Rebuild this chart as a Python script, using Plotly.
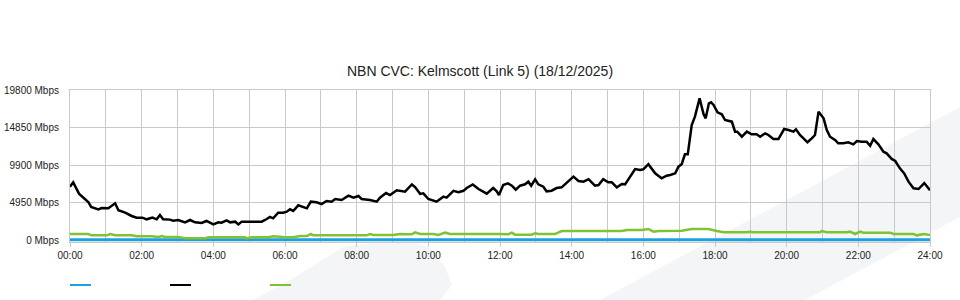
import plotly.graph_objects as go

# ---------------- data ----------------
title_text = "NBN CVC: Kelmscott (Link 5) (18/12/2025)"

x_tick_vals = [0, 2, 4, 6, 8, 10, 12, 14, 16, 18, 20, 22, 24]
x_tick_text = ["00:00", "02:00", "04:00", "06:00", "08:00", "10:00", "12:00",
               "14:00", "16:00", "18:00", "20:00", "22:00", "24:00"]
y_tick_vals = [0, 4950, 9900, 14850, 19800]
y_tick_text = ["0 Mbps", "4950 Mbps", "9900 Mbps", "14850 Mbps", "19800 Mbps"]

# hours of day
black_t = [0.00, 0.09, 0.25, 0.37, 0.51, 0.59, 0.79, 0.88, 1.07, 1.26, 1.35, 1.54, 1.72, 1.86,
           2.02, 2.14, 2.30, 2.42, 2.51, 2.60, 2.79, 2.88, 3.02, 3.21, 3.35, 3.49, 3.67, 3.81,
           4.00, 4.14, 4.23, 4.37, 4.47, 4.61, 4.70, 4.79, 4.98, 5.21, 5.35, 5.49, 5.58, 5.67,
           5.81, 5.95, 6.05, 6.14, 6.23, 6.37, 6.51, 6.61, 6.72, 6.88, 7.02, 7.16, 7.30, 7.40,
           7.58, 7.77, 7.91, 8.05, 8.14, 8.37, 8.56, 8.65, 8.82, 8.93, 9.12, 9.35, 9.54, 9.63,
           9.77, 9.86, 10.00, 10.23, 10.42, 10.51, 10.70, 10.84, 10.98, 11.07, 11.24, 11.40,
           11.63, 11.81, 11.91, 11.97, 12.09, 12.22, 12.33, 12.44, 12.56, 12.70, 12.79, 12.87,
           12.98, 13.07, 13.21, 13.30, 13.44, 13.58, 13.72, 13.86, 14.05, 14.19, 14.33, 14.47,
           14.65, 14.75, 14.88, 15.02, 15.12, 15.26, 15.40, 15.49, 15.63, 15.77, 15.91, 16.00,
           16.14, 16.33, 16.51, 16.65, 16.75, 16.89, 16.98, 17.07, 17.16, 17.24, 17.35, 17.44,
           17.57, 17.68, 17.74, 17.83, 17.89, 17.96, 18.07, 18.19, 18.28, 18.47, 18.56, 18.62,
           18.75, 18.89, 19.02, 19.16, 19.26, 19.40, 19.49, 19.63, 19.77, 19.93, 20.05, 20.19,
           20.26, 20.37, 20.47, 20.58, 20.70, 20.79, 20.89, 21.03, 21.12, 21.21, 21.35, 21.44,
           21.58, 21.72, 21.86, 21.96, 22.09, 22.23, 22.33, 22.42, 22.56, 22.70, 22.79, 22.93,
           23.03, 23.16, 23.28, 23.40, 23.54, 23.68, 23.84, 24.00]
black_v = [7040, 7610, 6120, 5550, 5020, 4360, 4050, 4220, 4180, 4840, 3920, 3610, 3170, 2950,
           2950, 2730, 2950, 2730, 3300, 2730, 2690, 2550, 2640, 2330, 2640, 2330, 2240, 2510,
           2060, 2330, 2290, 2600, 2330, 2420, 2060, 2420, 2420, 2510, 2420, 2770, 3040, 2860,
           3610, 3600, 3740, 4050, 3830, 4580, 4310, 4180, 5060, 4970, 4750, 5150, 5060, 5410,
           5280, 5850, 5590, 5810, 5410, 5280, 5060, 5590, 6200, 5940, 6560, 6380, 7330, 6980,
           6090, 6160, 5410, 5060, 5720, 5590, 6490, 6310, 6490, 6860, 7330, 6730,
           6110, 6860, 6420, 5940, 7260, 7480, 7170, 6640, 7170, 7350, 7700, 7170,
           8020, 7350, 7040, 6420, 6510, 6860, 6950, 7550, 8360, 7790, 7700, 8020,
           7170, 7260, 8020, 7610, 7610, 6950, 7390, 7350, 8360, 9370, 9240, 9330,
           10000, 8800, 8140, 8490, 8580, 8800, 9680, 10000, 11310, 11310, 15180, 16280,
           18700, 16630, 16060, 18040, 18170, 17820, 16850, 16590, 15840, 15620, 14300, 14300,
           13640, 14300, 13950, 13950, 13640, 14080, 13860, 13330, 13330, 14650, 14520, 14300,
           14610, 13860, 13420, 12900, 13420, 13860, 16940, 16060, 14520, 13640, 13200, 12760,
           12760, 12900, 12630, 13070, 12980, 12980, 12450, 13330, 12630, 11660, 11440, 10700,
           10430, 9460, 8800, 7700, 6820, 6730, 7520, 6560]

green_t = [0.00, 0.51, 0.60, 1.03, 1.12, 1.26, 1.72, 1.86, 2.28, 2.47, 2.56, 2.65, 3.02, 3.21,
           3.77, 3.86, 4.88, 4.93, 5.07, 5.53, 5.67, 5.81, 5.95, 6.23, 6.42, 6.61, 6.72, 6.79,
           8.28, 8.37, 8.47, 9.02, 9.21, 9.40, 9.54, 9.63, 9.77, 10.14, 10.28, 10.47, 10.61,
           11.99, 12.23, 12.33, 12.42, 12.88, 12.98, 13.07, 13.53, 13.72, 15.40, 15.54, 15.96,
           16.14, 16.28, 16.42, 16.98, 17.07, 17.35, 17.82, 18.05, 18.24, 18.89, 18.98, 19.07,
           20.93, 20.98, 21.12, 21.68, 21.77, 21.91, 22.05, 22.14, 22.89, 22.98, 23.54, 23.63,
           23.82, 24.00]
green_v = [790, 790, 616, 616, 790, 616, 616, 484, 484, 396, 528, 396, 396, 220,
           220, 352, 352, 220, 352, 352, 484, 396, 396, 352, 528, 528, 790, 616,
           616, 790, 660, 660, 790, 748, 748, 1010, 790, 790, 660, 968, 790,
           790, 748, 968, 704, 704, 880, 790, 790, 1188, 1188, 1320, 1320,
           1452, 1100, 1188, 1188, 1232, 1452, 1452, 1188, 1012, 1012, 1100, 1012,
           1012, 1188, 1012, 1012, 1100, 792, 1100, 968, 968, 790, 790, 616,
           790, 660]

blue_t = [0, 3, 6, 9, 12, 15, 18, 21, 24]
blue_v = [40, 40, 40, 40, 40, 40, 40, 40, 40]

# ---------------- styling ----------------
FONT = "Liberation Sans, Arial, sans-serif"
GRID = "#c9c9c9"
BLUE = "#1ba1e2"
BLACK = "#000000"
GREEN = "#7fc232"
WM = "#f4f5f7"

# plot area in pixels: x 70..930, y 90..242 (figure 960x300)
L, R, T, B = 70, 930, 90, 242


def px(xp):
    return (xp - L) / (R - L)


def py(yp):
    return (B - yp) / (B - T)


def path(points):
    return "M " + " L ".join(f"{px(a):.4f},{py(b):.4f}" for a, b in points) + " Z"


fig = go.Figure()
fig.add_trace(go.Scatter(x=blue_t, y=blue_v, mode="lines",
                         line=dict(color=BLUE, width=3), showlegend=False))
fig.add_trace(go.Scatter(x=green_t, y=green_v, mode="lines",
                         line=dict(color=GREEN, width=2.5), showlegend=False))
fig.add_trace(go.Scatter(x=black_t, y=black_v, mode="lines",
                         line=dict(color=BLACK, width=2.5), showlegend=False))

shapes = [
    # watermark shapes in the background
    dict(type="path", xref="paper", yref="paper", layer="below", line=dict(width=0),
         fillcolor=WM, path=path([(600, 300), (960, 107), (960, 217), (805, 300)])),
    dict(type="path", xref="paper", yref="paper", layer="below", line=dict(width=0),
         fillcolor=WM, path=path([(253, 300), (290, 280), (343, 247), (380, 242), (413, 242),
                                  (430, 248), (445, 267), (452, 285), (440, 300)])),
]
# legend swatches (no labels in the reference)
for col, x0 in [(BLUE, 70), (BLACK, 170), (GREEN, 270)]:
    shapes.append(dict(type="line", xref="paper", yref="paper",
                       x0=px(x0), x1=px(x0 + 21), y0=py(285), y1=py(285),
                       line=dict(color=col, width=2)))

y_low = -(B - 240) / 150 * 19800

fig.update_layout(
    width=960, height=300,
    margin=dict(l=L, r=960 - R, t=T, b=300 - B, pad=0, autoexpand=False),
    paper_bgcolor="white", plot_bgcolor="rgba(0,0,0,0)",
    font=dict(family=FONT, size=10, color="#222222"),
    title=dict(text=title_text, x=0.5, xanchor="center", xref="container",
               y=1 - 71 / 300, yanchor="middle",
               font=dict(family=FONT, size=14, color="#222222")),
    shapes=shapes,
    xaxis=dict(range=[0, 24], tickmode="array", tickvals=x_tick_vals, ticktext=x_tick_text,
               showgrid=True, gridcolor=GRID, gridwidth=1, automargin=False,
               ticks="outside", ticklen=4, tickcolor=GRID,
               showline=True, linecolor=GRID, mirror=True, zeroline=False,
               minor=dict(tickmode="linear", tick0=0, dtick=1, showgrid=True,
                          gridcolor=GRID, gridwidth=1, ticks=""),
               tickfont=dict(size=10, color="#222222")),
    yaxis=dict(range=[y_low, 19800], tickmode="array", tickvals=y_tick_vals,
               ticktext=y_tick_text, showgrid=True, gridcolor=GRID, gridwidth=1,
               ticks="", ticklabelstandoff=8, automargin=False,
               showline=True, linecolor=GRID, mirror=True, zeroline=False,
               tickfont=dict(size=10, color="#222222")),
)

fig.write_html("out.html")
